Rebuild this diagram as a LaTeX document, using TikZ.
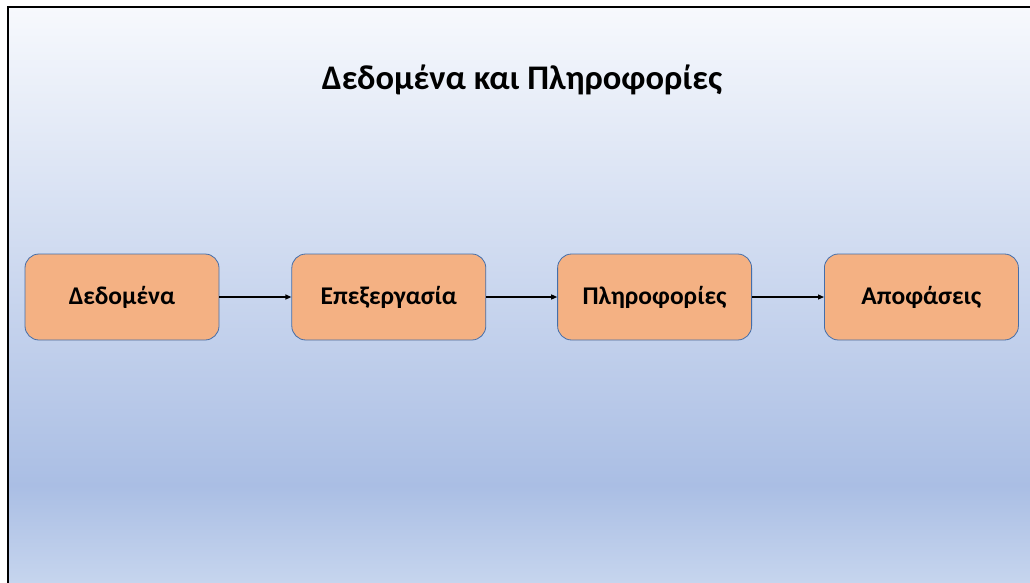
\documentclass[tikz,border=0pt]{standalone}
\usepackage{fontspec}
\setmainfont{Carlito}
\usetikzlibrary{positioning,arrows.meta}
\definecolor{bgtop}{RGB}{247,249,253}
\definecolor{bgmid}{RGB}{170,190,228}
\definecolor{bgbot}{RGB}{198,213,238}
\definecolor{boxfill}{RGB}{244,177,131}
\definecolor{boxline}{RGB}{68,110,170}
\tikzset{
	stage/.style={draw=boxline,line width=0.8pt,fill=boxfill,rounded corners=14pt,
		minimum width=194pt,minimum height=86pt,inner sep=0pt,
		font=\bfseries\fontsize{25.5}{30}\selectfont},
	flow/.style={line width=1.2pt,-{Triangle[length=6pt,width=5pt]}}
}
\begin{document}
\begin{tikzpicture}[x=1pt,y=-1pt]
			\useasboundingbox (0,0) rectangle (1030,583);
			% background
			\shade[top color=bgtop,bottom color=bgmid] (8,7) rectangle (1030,486);
			\shade[top color=bgmid,bottom color=bgbot] (8,485) rectangle (1030,583);
			\draw[line width=2pt] (8,583)-- (8,7)-- (1030,7);
			
			\node (title) at (522,80) {\bfseries\fontsize{34.5}{40}\selectfont Δεδομένα και Πληροφορίες};
			
			\node[stage] (dedomena) at (122,297) {Δεδομένα};
			\node[stage,right=72pt of dedomena] (epexergasia) {Επεξεργασία};
			\node[stage,right=71pt of epexergasia] (plirofories) {Πληροφορίες};
			\node[stage,right=72pt of plirofories] (apofaseis) {Αποφάσεις};
			
			\draw[flow] (dedomena)-- (epexergasia);
			\draw[flow] (epexergasia)-- (plirofories);
			\draw[flow] (plirofories)-- (apofaseis);
		\end{tikzpicture}
\end{document}
